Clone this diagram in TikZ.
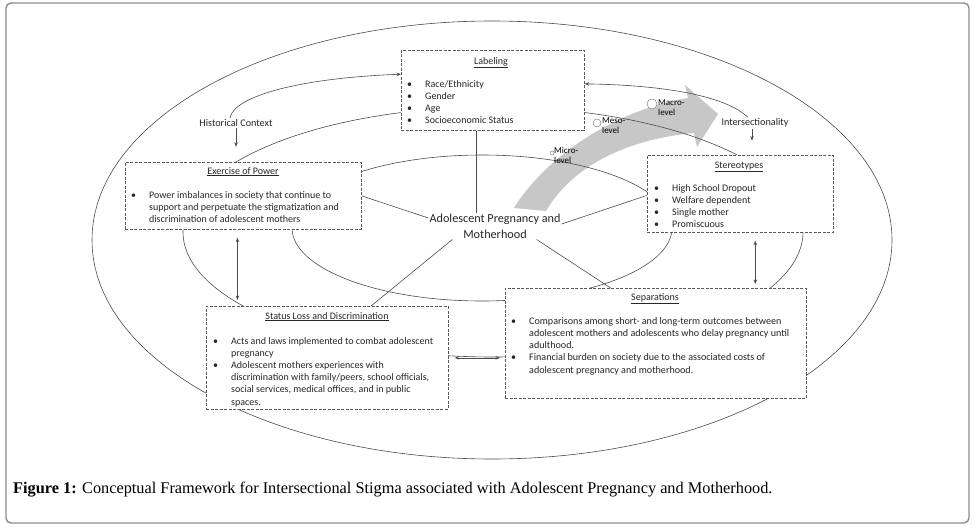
\documentclass[tikz,border=0pt]{standalone}
\usepackage{fontspec}
\setmainfont{Carlito}
\newfontfamily\capfont{Liberation Serif}
\usetikzlibrary{arrows.meta,calc}
\newcommand\bl{\textbullet}
\begin{document}
\begin{tikzpicture}[x=1pt,y=-1pt]
\tikzset{
 box/.style={draw=black!65, dash pattern=on 3pt off 1.5pt, line width=0.7pt, fill=white, anchor=north west, inner sep=0pt},
 conn/.style={draw=black!70, line width=0.6pt},
 arr/.style={conn, -{Stealth[length=4.5pt,width=3.5pt]}},
 darr/.style={conn, {Stealth[length=4.5pt,width=3.5pt]}-{Stealth[length=4.5pt,width=3.5pt]}},
 ttl/.style={font=\fontsize{10}{12}\selectfont, text=black!85, inner sep=0pt, anchor=base},
 lst/.style={font=\fontsize{10}{12.2}\selectfont, text=black!85, inner sep=0pt, anchor=base west},
 lbl/.style={font=\fontsize{10.2}{12}\selectfont, text=black!85, inner sep=1pt},
 lvl/.style={font=\fontsize{9}{10}\selectfont, inner sep=0pt, anchor=base west, align=left},
 dot/.style={circle, draw=black!50, fill=white, line width=0.5pt, inner sep=0pt},
}
\useasboundingbox (0,0) rectangle (978,530);
% frame
\draw[black!45, line width=1.4pt, rounded corners=5pt] (6,3) rectangle (969,523);
% gray arrow
\fill[black!22] (514,208) .. controls (540,165) and (605,112) .. (688,98) -- (685,85) -- (718,114) -- (697,147) -- (694,133) .. controls (620,140) and (570,170) .. (546,211) -- cycle;
% ellipses
\draw[conn] (492,240) ellipse [x radius=400, y radius=219];
\draw[conn] (493,232) ellipse [x radius=310, y radius=125];
\draw[conn] (482,228) ellipse [x radius=190, y radius=73];
% texts (non-box)
\node[lbl] (hc) at (236,123) {Historical Context};
\node[lbl] (ix) at (755,123) {Intersectionality};
\node[font=\fontsize{12.2}{16}\selectfont, text=black!85, align=center, inner sep=1pt] (cen) at (495,226) {Adolescent Pregnancy and\\Motherhood};
% boxes
\node[box, minimum width=183, minimum height=80] (lab) at (401,50) {};
\node[box, minimum width=236, minimum height=67] (ep) at (125,162) {};
\node[box, minimum width=186, minimum height=77] (st) at (647,155) {};
\node[box, minimum width=242, minimum height=103] (sl) at (206,306) {};
\node[box, minimum width=301, minimum height=110] (sp) at (505,288) {};
% box contents
\node[ttl] at (491,64) {\underline{Labeling}};
\node[lst] at (407,87) {\begin{tabular}[t]{@{}p{18pt}@{}l@{}}\bl & Race/Ethnicity\\ \bl & Gender\\ \bl & Age\\ \bl & Socioeconomic Status\end{tabular}};
\node[ttl] at (243,174) {\underline{Exercise of Power}};
\node[lst] at (131,198) {\begin{tabular}[t]{@{}p{18pt}@{}l@{}}\bl & Power imbalances in society that continue to\\ & support and perpetuate the stigmatization and\\ & discrimination of adolescent mothers\end{tabular}};
\node[ttl] at (739,168) {\underline{Stereotypes}};
\node[lst] at (654,191) {\begin{tabular}[t]{@{}p{18pt}@{}l@{}}\bl & High School Dropout\\ \bl & Welfare dependent\\ \bl & Single mother\\ \bl & Promiscuous\end{tabular}};
\node[ttl] at (327,319) {\underline{Status Loss and Discrimination}};
\node[lst] at (213,344) {\begin{tabular}[t]{@{}p{18pt}@{}l@{}}\bl & Acts and laws implemented to combat adolescent\\ & pregnancy\\ \bl & Adolescent mothers experiences with\\ & discrimination with family/peers, school officials,\\ & social services, medical offices, and in public\\ & spaces.\end{tabular}};
\node[ttl] at (655,300) {\underline{Separations}};
\node[lst, font=\fontsize{10.1}{12.3}\selectfont] at (511,324) {\begin{tabular}[t]{@{}p{18pt}@{}l@{}}\bl & Comparisons among short- and long-term outcomes between\\ & adolescent mothers and adolescents who delay pregnancy until\\ & adulthood.\\ \bl & Financial burden on society due to the associated costs of\\ & adolescent pregnancy and motherhood.\end{tabular}};
% connectors from centre
\coordinate (c1) at ($(cen.north)+(-19,0)$);
\draw[conn] (c1) -- (c1 |- lab.south);
\draw[conn] ($(cen.west)+(0,-8)$) -- ($(ep.north east)!0.5!(ep.south east)$);
\draw[conn] ($(cen.east)+(0,-2)$) -- ($(st.north west)!0.52!(st.south west)$);
\draw[conn] ($(cen.south west)+(24,0)$) -- ($(sl.north west)!0.68!(sl.north east)$);
\draw[conn] ($(cen.south east)+(-25,0)$) -- ($(sp.north west)!0.35!(sp.north east)$);
% arrows
\draw[arr] (hc.south) -- ++(0,19);
\draw[arr] ($(ix.south)+(-3,0)$) -- ++(0,12);
\draw[arr] ($(hc.north)+(-6,0)$) .. controls ++(3,-22) and (300,78) .. ($(lab.north west)!0.3!(lab.south west)$);
\draw[arr] ($(ix.north)+(-7,0)$) .. controls (725,95) and (660,85) .. ($(lab.north east)!0.42!(lab.south east)$);
\coordinate (d1a) at ($(ep.south west)!0.475!(ep.south east)+(0,8)$);
\coordinate (d1b) at ($(d1a |- sl.north)+(0,-6)$);
\draw[darr] (d1a) -- (d1b);
\coordinate (d2a) at ($(st.south west)!0.58!(st.south east)+(0,8)$);
\coordinate (d2b) at ($(d2a |- sp.north)+(0,-4)$);
\draw[darr] (d2a) -- (d2b);
\coordinate (d3a) at ($(sl.north east)!0.5!(sl.south east)+(6,0)$);
\coordinate (d3b) at ($(d3a -| sp.west)+(-5,0)$);
\draw[darr] (d3a) -- (d3b);
% level labels
\node[dot, minimum size=4] (d-mi) at (552,153) {};
\node[dot, minimum size=8] (d-me) at (597,123) {};
\node[dot, minimum size=10] (d-ma) at (652,104) {};
\node[lvl] at (554,163) {Micro-\\level};
\node[lvl] at (602,133) {Meso-\\level};
\node[lvl] at (658,115) {Macro-\\level};
% caption
\node[anchor=base west, inner sep=0pt, font=\capfont\fontsize{16.3}{18}\selectfont] at (13,493) {\textbf{Figure 1:} Conceptual Framework for Intersectional Stigma associated with Adolescent Pregnancy and Motherhood.};
\end{tikzpicture}
\end{document}
